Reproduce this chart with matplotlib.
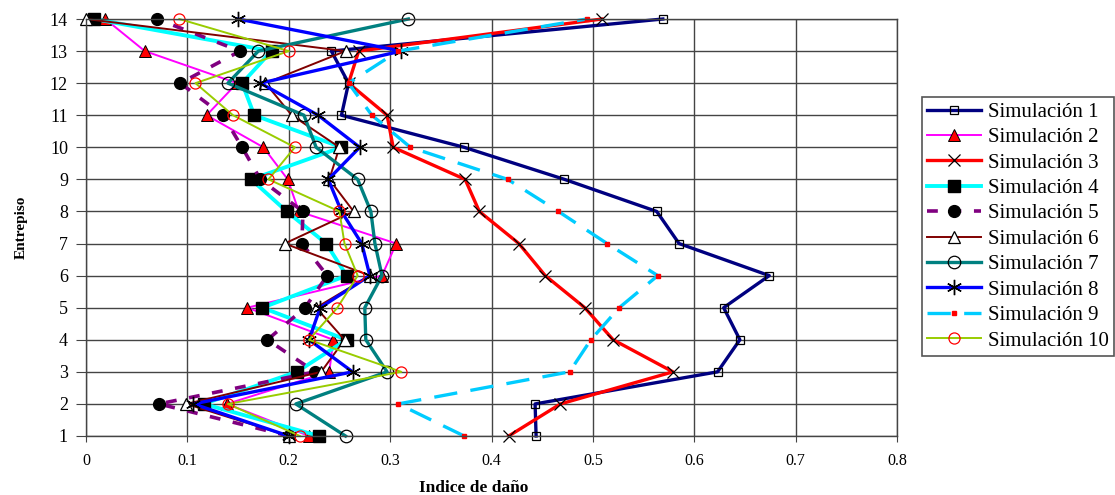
import matplotlib
matplotlib.use("Agg")
import matplotlib.pyplot as plt

# storey numbers (y axis)
pisos = list(range(1, 15))

# damage index per storey, storey 1 -> 14
sim1 = [0.444, 0.443, 0.623, 0.645, 0.629, 0.674, 0.585, 0.563, 0.472, 0.373, 0.252, 0.259, 0.242, 0.569]
sim2 = [0.220, 0.139, 0.240, 0.244, 0.159, 0.292, 0.306, 0.210, 0.199, 0.175, 0.119, 0.149, 0.058, 0.019]
sim3 = [0.417, 0.468, 0.579, 0.520, 0.492, 0.453, 0.427, 0.388, 0.374, 0.303, 0.297, 0.259, 0.269, 0.509]
sim4 = [0.230, 0.116, 0.208, 0.257, 0.174, 0.257, 0.237, 0.198, 0.163, 0.252, 0.166, 0.154, 0.183, 0.008]
sim5 = [0.200, 0.072, 0.226, 0.179, 0.216, 0.238, 0.213, 0.214, 0.172, 0.154, 0.135, 0.093, 0.152, 0.070]
sim6 = [0.200, 0.099, 0.232, 0.255, 0.227, 0.280, 0.196, 0.264, 0.240, 0.250, 0.203, 0.177, 0.256, 0.000]
sim7 = [0.256, 0.207, 0.297, 0.276, 0.275, 0.292, 0.285, 0.281, 0.268, 0.227, 0.215, 0.140, 0.170, 0.318]
sim8 = [0.200, 0.106, 0.263, 0.220, 0.231, 0.280, 0.272, 0.252, 0.239, 0.270, 0.229, 0.172, 0.311, 0.150]
sim9 = [0.373, 0.308, 0.477, 0.498, 0.526, 0.564, 0.514, 0.466, 0.416, 0.320, 0.282, 0.259, 0.308, 0.494]
sim10 = [0.211, 0.140, 0.311, 0.220, 0.248, 0.268, 0.255, 0.250, 0.180, 0.206, 0.145, 0.108, 0.200, 0.092]

nombres = ["Simulación %d" % i for i in range(1, 11)]
xticks = [0, 0.1, 0.2, 0.3, 0.4, 0.5, 0.6, 0.7, 0.8]
xtick_labels = ["0", "0.1", "0.2", "0.3", "0.4", "0.5", "0.6", "0.7", "0.8"]

plt.rcParams['font.family'] = ['Liberation Serif', 'DejaVu Serif']

fig = plt.figure(figsize=(11.15, 4.95), dpi=100)
ax = fig.add_axes([86 / 1115, 1 - 436 / 495, (897 - 86) / 1115, (436 - 19) / 495])

# grid first so the series sit above it
ax.set_axisbelow(True)
ax.grid(True, color="#444444", linewidth=1.0)

asterisco = (6, 2, 0)

ax.plot(sim1, pisos, color="#000080", lw=2.4, marker="s", ms=6, mfc="none", mec="black", mew=0.9, clip_on=False, label=nombres[0])
ax.plot(sim2, pisos, color="#FF00FF", lw=1.4, marker="^", ms=8, mfc="#FF0000", mec="black", mew=0.7, clip_on=False, label=nombres[1])
ax.plot(sim3, pisos, color="#FF0000", lw=2.4, marker="x", ms=9, mec="black", mew=0.9, clip_on=False, label=nombres[2])
ax.plot(sim4, pisos, color="#00FFFF", lw=2.8, marker="s", ms=8, mfc="black", mec="black", clip_on=False, label=nombres[3])
ax.plot(sim5, pisos, color="#800080", lw=2.6, dashes=(3, 3.5), marker="o", ms=8.5, mfc="black", mec="black", clip_on=False, label=nombres[4])
ax.plot(sim6, pisos, color="#800000", lw=1.4, marker="^", ms=8, mfc="white", mec="black", mew=0.9, clip_on=False, label=nombres[5])
ax.plot(sim7, pisos, color="#008080", lw=2.4, marker="o", ms=9, mfc="none", mec="black", mew=0.9, clip_on=False, label=nombres[6])
ax.plot(sim8, pisos, color="#0000FF", lw=2.4, marker=asterisco, ms=11, mec="black", mew=1.0, clip_on=False, label=nombres[7])
ax.plot(sim9, pisos, color="#00CCFF", lw=2.4, dashes=(7, 4), marker="s", ms=3.5, mfc="#FF0000", mec="#FF0000", clip_on=False, label=nombres[8])
ax.plot(sim10, pisos, color="#99CC00", lw=1.4, marker="o", ms=8, mfc="none", mec="#FF0000", mew=0.9, clip_on=False, label=nombres[9])

ax.set_xlim(0, 0.8)
ax.set_ylim(1, 14)
ax.set_xticks(xticks)
ax.set_xticklabels(xtick_labels)
ax.set_yticks(pisos)
ax.tick_params(axis="x", direction="out", length=4, pad=8, labelsize=11.5, color="#444444")
ax.tick_params(axis="y", direction="out", length=7, pad=6, labelsize=13, color="#444444")

for s in ax.spines.values():
    s.set_color("#444444")
    s.set_linewidth(1.0)

ax.set_xlabel("Indice de daño", fontsize=12.5, fontweight="bold")
ax.xaxis.set_label_coords((474 - 86) / 811, -0.105)
ax.set_ylabel("Entrepiso", fontsize=11, fontweight="bold", labelpad=16)

leg = ax.legend(loc="upper left", bbox_to_anchor=(922 / 1115, 1 - 97 / 495), bbox_transform=fig.transFigure,
                fontsize=15, frameon=True, fancybox=False, edgecolor="#555555", framealpha=1,
                handlelength=2.6, labelspacing=0.28, borderpad=0.25, handletextpad=0.3, borderaxespad=0)
leg.get_frame().set_linewidth(1.2)

fig.savefig("out.png", dpi=100)
